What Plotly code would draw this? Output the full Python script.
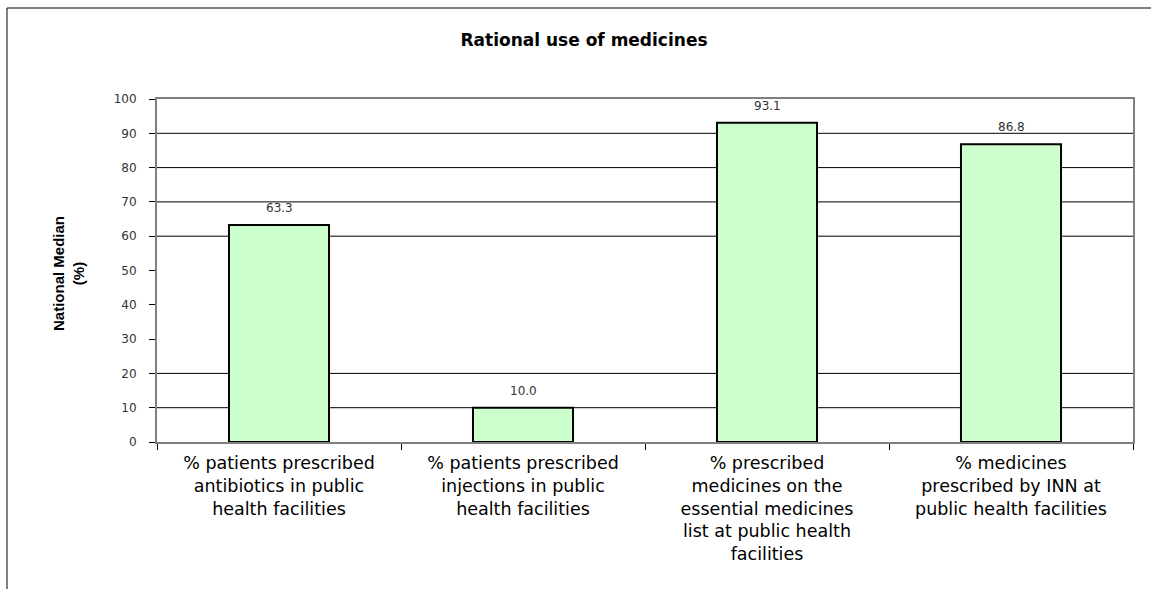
import plotly.graph_objects as go

categories = [
    "% patients prescribed<br>antibiotics in public<br>health facilities",
    "% patients prescribed<br>injections in public<br>health facilities",
    "% prescribed<br>medicines on the<br>essential medicines<br>list at public health<br>facilities",
    "% medicines<br>prescribed by INN at<br>public health facilities",
]
values = [63.3, 10.0, 93.1, 86.8]
labels = ["63.3", "10.0", "93.1", "86.8"]
grid_values = [10, 20, 60, 70, 80, 90]
y_ticks = [0, 10, 20, 30, 40, 50, 60, 70, 80, 90, 100]

W, H = 1151, 589
L, R, T, B = 157, 18, 99, 147
pw, ph = W - L - R, H - T - B

fig = go.Figure()
fig.add_trace(go.Bar(
    x=categories, y=values,
    marker=dict(color="#CCFFCC", line=dict(color="black", width=2)),
    width=0.41,
))

shapes = []
for g in grid_values:
    shapes.append(dict(type="line", xref="paper", yref="y", x0=0, x1=1, y0=g, y1=g,
                       line=dict(color="black", width=1), layer="below"))
# outer chart border (top and left)
shapes.append(dict(type="line", xref="paper", yref="paper",
                   x0=(7 - L) / pw, x1=(W + 5 - L) / pw,
                   y0=1 + (T - 8) / ph, y1=1 + (T - 8) / ph,
                   line=dict(color="black", width=1)))
shapes.append(dict(type="line", xref="paper", yref="paper",
                   x0=(7 - L) / pw, x1=(7 - L) / pw,
                   y0=1 + (T - 8) / ph, y1=-(B + 5) / ph,
                   line=dict(color="black", width=1)))

annotations = [dict(text="<b>National Median<br>(%)</b>", xref="paper", yref="paper",
                    x=(68 - L) / pw, y=(442 - 274) / ph, textangle=-90,
                    showarrow=False, xanchor="center", yanchor="middle",
                    font=dict(family="Liberation Sans Narrow, Arial Narrow, Liberation Sans",
                              size=15, color="black"))]
for c, v, t in zip(categories, values, labels):
    annotations.append(dict(x=c, y=v, xref="x", yref="y", text=t, showarrow=False,
                            yanchor="bottom", yshift=8,
                            font=dict(family="DejaVu Sans", size=12, color="#333333")))

fig.update_layout(
    width=W, height=H,
    margin=dict(l=L, r=R, t=T, b=B),
    paper_bgcolor="white", plot_bgcolor="white",
    showlegend=False,
    shapes=shapes,
    annotations=annotations,
    title=dict(text="<b>Rational use of medicines</b>", x=584 / W, xanchor="center",
               y=1 - 40 / H, yanchor="middle",
               font=dict(family="DejaVu Sans", size=17, color="black")),
    xaxis=dict(showgrid=False, showline=True, linecolor="#808080", linewidth=2, mirror=True,
               ticks="outside", tickson="boundaries", ticklen=6, tickcolor="black",
               ticklabelstandoff=4,
               tickfont=dict(family="DejaVu Sans", size=17.5, color="black")),
    yaxis=dict(range=[0, 100], tickvals=y_ticks, showgrid=False, showline=True,
               linecolor="#808080", linewidth=2, mirror=True, zeroline=False,
               ticks="outside", ticklen=6, tickcolor="black", ticklabelstandoff=10,
               tickfont=dict(family="DejaVu Sans", size=12, color="#333333")),
)

fig.write_html("out.html")
